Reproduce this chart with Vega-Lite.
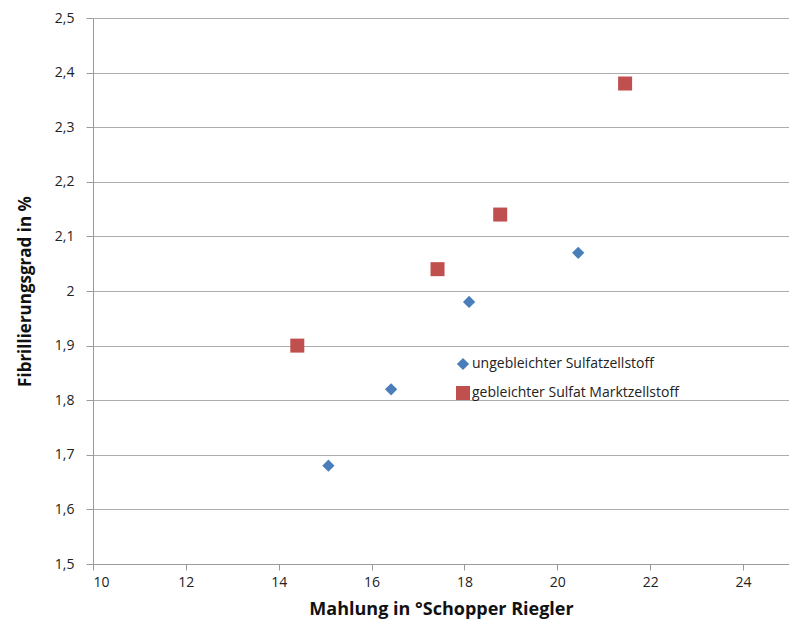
{
  "$schema": "https://vega.github.io/schema/vega-lite/v6.json",
  "width": 696,
  "height": 546,
  "autosize": {"type": "none"},
  "padding": {"left": 93, "top": 18, "right": 0, "bottom": 66},
  "background": "white",
  "config": {
    "view": {"stroke": null},
    "font": "Lato",
    "axis": {"labelFont": "Open Sans", "titleFont": "Open Sans"},
    "legend": {"labelFont": "Open Sans"}
  },
  "data": {
    "values": [
      {"x": 15.07, "y": 1.68, "s": "ungebleichter Sulfatzellstoff"},
      {"x": 16.42, "y": 1.82, "s": "ungebleichter Sulfatzellstoff"},
      {"x": 18.1, "y": 1.98, "s": "ungebleichter Sulfatzellstoff"},
      {"x": 20.45, "y": 2.07, "s": "ungebleichter Sulfatzellstoff"},
      {"x": 14.4, "y": 1.9, "s": "gebleichter Sulfat Marktzellstoff"},
      {"x": 17.42, "y": 2.04, "s": "gebleichter Sulfat Marktzellstoff"},
      {"x": 18.77, "y": 2.14, "s": "gebleichter Sulfat Marktzellstoff"},
      {"x": 21.46, "y": 2.38, "s": "gebleichter Sulfat Marktzellstoff"}
    ]
  },
  "mark": {"type": "point", "filled": true, "opacity": 1},
  "encoding": {
    "x": {
      "field": "x", "type": "quantitative",
      "scale": {"domain": [10, 24.99], "nice": false, "zero": false},
      "axis": {
        "values": [10, 12, 14, 16, 18, 20, 22, 24],
        "title": "Mahlung in °Schopper Riegler",
        "grid": false,
        "domainColor": "#9a9a9a", "tickColor": "#9a9a9a", "tickSize": 6,
        "labelFontSize": 14, "labelColor": "#222", "labelPadding": 5,
        "titleFontSize": 18, "titleFontWeight": "bold", "titleColor": "#111",
        "titlePadding": 11
      }
    },
    "y": {
      "field": "y", "type": "quantitative",
      "scale": {"domain": [1.5, 2.5], "nice": false, "zero": false},
      "axis": {
        "values": [1.5, 1.6, 1.7, 1.8, 1.9, 2.0, 2.1, 2.2, 2.3, 2.4, 2.5],
        "labelExpr": "replace(format(datum.value, '.2~f'), '.', ',')",
        "title": "Fibrillierungsgrad in %",
        "grid": true, "gridColor": "#acacac",
        "domainColor": "#9a9a9a", "tickColor": "#9a9a9a", "tickSize": 7,
        "labelFontSize": 14, "labelColor": "#222", "labelPadding": 12,
        "titleFontSize": 17, "titleFontWeight": "bold", "titleColor": "#111",
        "titlePadding": 20
      }
    },
    "color": {
      "field": "s", "type": "nominal",
      "scale": {"domain": ["ungebleichter Sulfatzellstoff", "gebleichter Sulfat Marktzellstoff"], "range": ["#4a7ebb", "#c0504d"]},
      "legend": {
        "title": null, "orient": "none", "legendX": 362, "legendY": 339,
        "labelFontSize": 14, "labelColor": "#222", "symbolSize": 90,
        "rowPadding": 14, "labelOffset": 1, "labelLimit": 400
      }
    },
    "shape": {
      "field": "s", "type": "nominal",
      "scale": {"domain": ["ungebleichter Sulfatzellstoff", "gebleichter Sulfat Marktzellstoff"], "range": ["diamond", "square"]}
    },
    "size": {
      "field": "s", "type": "nominal",
      "scale": {"domain": ["ungebleichter Sulfatzellstoff", "gebleichter Sulfat Marktzellstoff"], "range": [150, 196]},
      "legend": null
    }
  }
}
